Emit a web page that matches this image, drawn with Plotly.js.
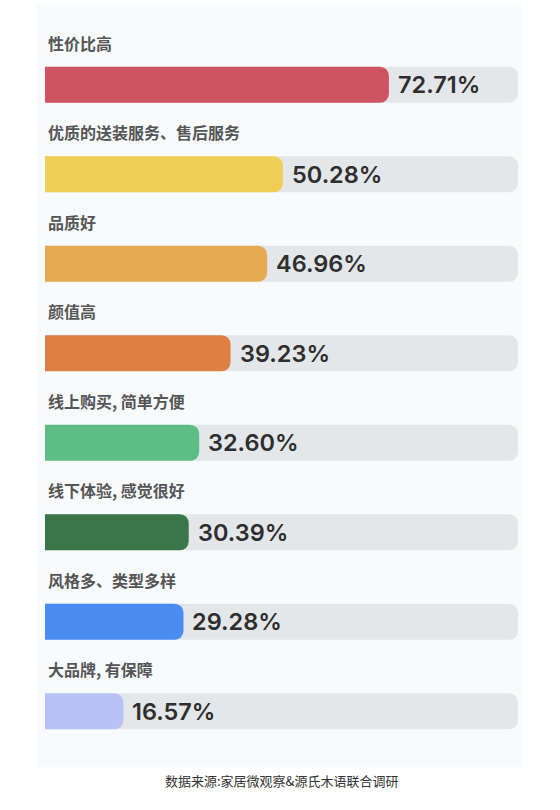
<!DOCTYPE html>
<html>
<head>
<meta charset="utf-8">
<script src="https://cdn.plot.ly/plotly-3.0.1.min.js"></script>
<style>
  html, body { margin: 0; padding: 0; background: #ffffff; }
  #chart { width: 560px; height: 810px; }
</style>
</head>
<body>
<div id="chart"></div>
<script>
// Survey answers, top to bottom
const categories = [
    '性价比高',
    '优质的送装服务、售后服务',
    '品质好',
    '颜值高',
    '线上购买, 简单方便',
    '线下体验, 感觉很好',
    '风格多、类型多样',
    '大品牌, 有保障'
];
const shares = [72.71, 50.28, 46.96, 39.23, 32.60, 30.39, 29.28, 16.57];
const barColors = ['#cf5462', '#f0ce55', '#e6aa52', '#df8043', '#5dbd85', '#3b7649', '#4b8cf3', '#b8c2f7'];
const fullScale = 100;
const sourceNote = '数据来源:家居微观察&源氏木语联合调研';

const cjkFont = '"Noto Sans CJK SC", "Noto Sans", sans-serif';
const numFont = 'Inter, "Noto Sans", sans-serif';

const BAR_W = 0.405;

// grey track behind every bar
const trackTrace = {
    type: 'bar',
    orientation: 'h',
    y: categories,
    x: categories.map(() => fullScale),
    width: BAR_W,
    marker: { color: '#e4e7e9', cornerradius: 9 },
    hoverinfo: 'skip'
};

// coloured bars live on their own overlaid axes, otherwise plotly
// only rounds the longest bar of a category
const valueTrace = {
    type: 'bar',
    orientation: 'h',
    xaxis: 'x2',
    yaxis: 'y2',
    y: categories,
    x: shares,
    width: BAR_W,
    marker: { color: barColors, cornerradius: 9 },
    hoverinfo: 'skip'
};

// category name above each bar
const nameLabels = categories.map(c => ({
    x: 0, y: c, xref: 'x', yref: 'y',
    text: c, showarrow: false,
    xanchor: 'left', yanchor: 'middle',
    xshift: 1, yshift: 42,
    font: { family: cjkFont, size: 16, color: '#555555', weight: 'bold' }
}));

// value right after each bar end
const valueLabels = shares.map((v, i) => ({
    x: v, y: categories[i], xref: 'x', yref: 'y',
    text: v.toFixed(2) + '%', showarrow: false,
    xanchor: 'left', yanchor: 'middle',
    xshift: 7, yshift: 0,
    font: { family: numFont, size: 23.5, color: '#2e2e2e', weight: 600 }
}));

const footer = {
    x: 0.5, y: -0.034, xref: 'paper', yref: 'paper',
    text: sourceNote, showarrow: false,
    xanchor: 'center', yanchor: 'middle',
    font: { family: cjkFont, size: 13, color: '#333333' }
};

const hiddenX = {
    range: [0, fullScale],
    showgrid: false, zeroline: false, showticklabels: false, fixedrange: true
};
const hiddenY = {
    type: 'category',
    range: [categories.length - 0.5, -0.5],
    showgrid: false, zeroline: false, showticklabels: false, fixedrange: true
};

const layout = {
    width: 560,
    height: 810,
    margin: { l: 45, r: 42, t: 40, b: 54 },
    paper_bgcolor: '#ffffff',
    plot_bgcolor: 'rgba(0,0,0,0)',
    barmode: 'overlay',
    showlegend: false,
    xaxis: hiddenX,
    yaxis: hiddenY,
    xaxis2: { ...hiddenX, overlaying: 'x' },
    yaxis2: { ...hiddenY, overlaying: 'y' },
    shapes: [{
        type: 'rect', layer: 'below',
        xref: 'paper', yref: 'paper',
        x0: -0.017, x1: 1.0085, y0: -0.0158, y1: 1.0493,
        line: { width: 0 },
        fillcolor: '#f8fbfd'
    }],
    annotations: [...nameLabels, ...valueLabels, footer]
};

Plotly.newPlot('chart', [trackTrace, valueTrace], layout, { displayModeBar: false, staticPlot: true });
</script>
</body>
</html>
